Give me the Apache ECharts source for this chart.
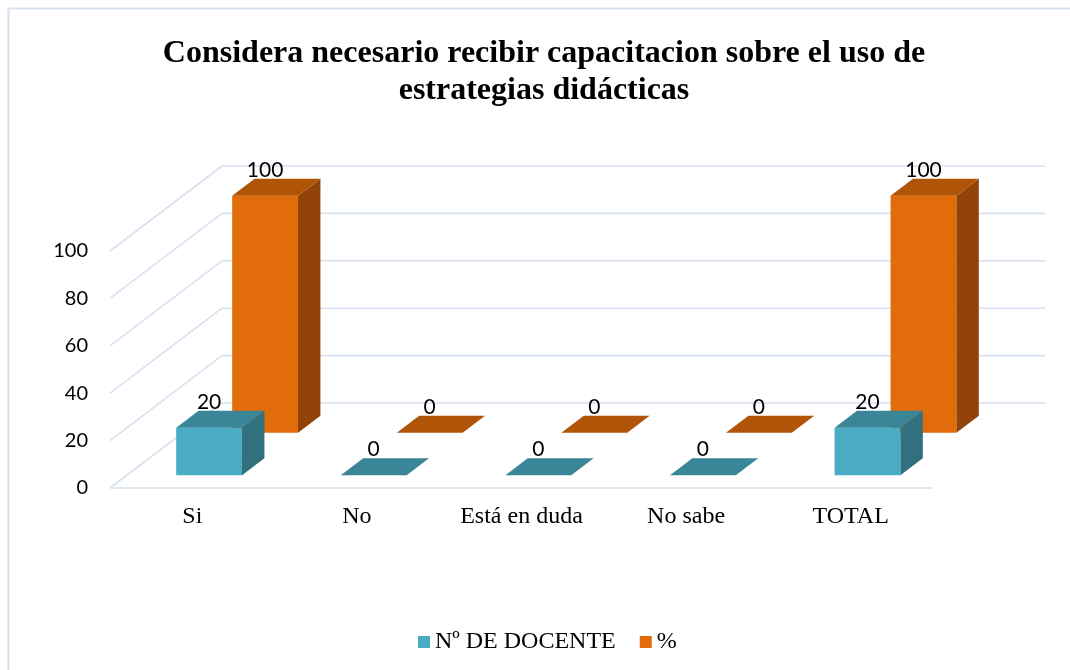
<!DOCTYPE html>
<html>
<head>
<meta charset="utf-8">
<script src="https://cdn.jsdelivr.net/npm/echarts@6/dist/echarts.min.js"></script>
<style>
    html, body { margin: 0; padding: 0; background: #fff; }
    #chart { width: 1070px; height: 670px; }
</style>
</head>
<body>
<div id="chart"></div>
<script>
    const categories = ['Si', 'No', 'Está en duda', 'No sabe', 'TOTAL']
    const docentes = [20, 0, 0, 0, 20]
    const porcentaje = [100, 0, 0, 0, 100]
    const yTicks = [0, 20, 40, 60, 80, 100]

    // vector de profundidad del efecto 3D (pared del fondo)
    const DX = 112, DY = -85
    const gridColor = '#D7E1F0'

    const mychart = echarts.init(document.getElementById('chart'))

    // caja 3D de una barra, entre las profundidades zFrom..zTo
    function box(api, zFrom, zTo, c) {
        const cat = api.value(0), val = api.value(1)
        const base = api.coord([cat, 0])
        const top = api.coord([cat, val])
        const bw = api.size([1, 0])[0] * 0.4
        const ox = DX * zFrom, oy = DY * zFrom
        const dx = DX * (zTo - zFrom), dy = DY * (zTo - zFrom)
        const x0 = base[0] - bw / 2 + ox, x1 = base[0] + bw / 2 + ox
        const yb = base[1] + oy, yt = top[1] + oy
        const children = []
        if (yb - yt > 0.5) {
            children.push({ type: 'polygon', shape: { points: [[x0, yt], [x1, yt], [x1, yb], [x0, yb]] }, style: { fill: c[0] } })
            children.push({ type: 'polygon', shape: { points: [[x1, yt], [x1 + dx, yt + dy], [x1 + dx, yb + dy], [x1, yb]] }, style: { fill: c[2] } })
        }
        children.push({ type: 'polygon', shape: { points: [[x0, yt], [x1, yt], [x1 + dx, yt + dy], [x0 + dx, yt + dy]] }, style: { fill: c[1] } })
        children.push({
            type: 'text',
            style: {
                text: String(val), x: (x0 + x1) / 2, y: yt + dy - 9,
                align: 'center', verticalAlign: 'middle',
                fill: '#000', font: '21px Lato'
            }
        })
        return { type: 'group', children }
    }

    mychart.setOption({
        animation: false,
        title: {
            text: 'Considera necesario recibir capacitacion sobre el uso de\nestrategias didácticas',
            left: 539,
            textAlign: 'center',
            top: 30,
            textStyle: {
                fontFamily: 'Liberation Serif',
                fontWeight: 'bold',
                fontSize: 32,
                lineHeight: 37,
                color: '#000'
            }
        },
        legend: {
            data: ['Nº DE DOCENTE', '%'],
            left: 413,
            top: 625,
            icon: 'rect',
            itemWidth: 12,
            itemHeight: 12,
            itemGap: 24,
            textStyle: { fontFamily: 'Liberation Serif', fontSize: 24, color: '#000' }
        },
        grid: { left: 110, right: 137, top: 251, bottom: 182 },
        xAxis: {
            type: 'category',
            data: categories,
            axisLine: { show: false },
            axisTick: { show: false },
            axisLabel: { margin: 17, fontFamily: 'Liberation Serif', fontSize: 24, color: '#000' }
        },
        yAxis: {
            type: 'value',
            min: 0,
            max: 100,
            interval: 20,
            axisLine: { show: false },
            axisTick: { show: false },
            splitLine: { show: false },
            axisLabel: { margin: 22, fontFamily: 'Lato', fontSize: 20, color: '#000' }
        },
        graphic: [{
            type: 'rect',
            shape: { x: 8.5, y: 8.5, width: 1200, height: 800 },
            style: { fill: 'none', stroke: gridColor, lineWidth: 2 },
            silent: true
        }],
        series: [
            {
                // lineas de la pared y el piso
                type: 'custom',
                silent: true,
                data: yTicks.map(v => [0, v]),
                renderItem: (params, api) => {
                    const cs = params.coordSys
                    const y = api.coord([0, api.value(1)])[1]
                    const xl = cs.x, xr = cs.x + cs.width
                    const st = { stroke: gridColor, lineWidth: 1.6 }
                    const children = [
                        { type: 'line', shape: { x1: xl, y1: y, x2: xl + DX, y2: y + DY }, style: st },
                        { type: 'line', shape: { x1: xl + DX, y1: y + DY, x2: xr + DX, y2: y + DY }, style: st }
                    ]
                    if (api.value(1) === 0) {
                        children.push({ type: 'line', shape: { x1: xl, y1: y, x2: xr, y2: y }, style: st })
                    }
                    return { type: 'group', children }
                },
                z: 1
            },
            {
                name: '%',
                type: 'custom',
                itemStyle: { color: '#E36C0A' },
                data: porcentaje.map((v, i) => [i, v]),
                renderItem: (params, api) => box(api, 0.65, 0.85, ['#E36C0A', '#B05407', '#924408']),
                z: 2
            },
            {
                name: 'Nº DE DOCENTE',
                type: 'custom',
                itemStyle: { color: '#4BACC6' },
                data: docentes.map((v, i) => [i, v]),
                renderItem: (params, api) => box(api, 0.15, 0.35, ['#4BACC6', '#3A8597', '#31717F']),
                z: 3
            }
        ]
    })
</script>
</body>
</html>
